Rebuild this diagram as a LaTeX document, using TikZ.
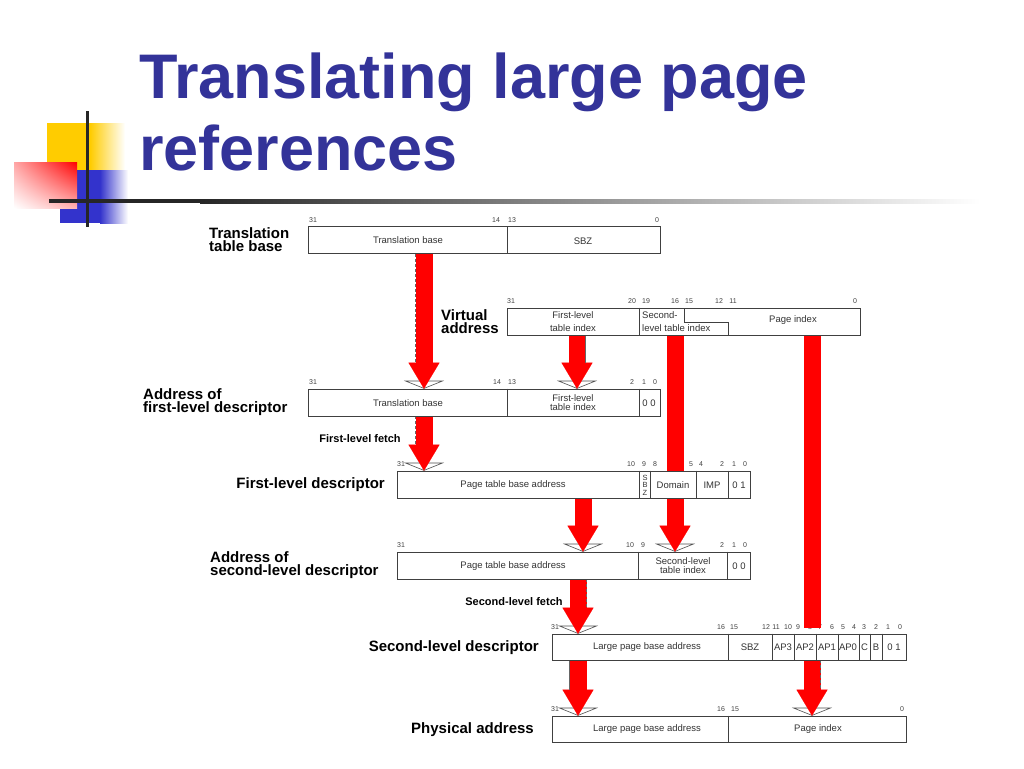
\documentclass[tikz,border=0pt]{standalone}
\usepackage{fontspec}
\setmainfont{Liberation Sans}
\usetikzlibrary{arrows.meta,shadings}
\definecolor{titleblue}{HTML}{333399}
\definecolor{logoyellow}{HTML}{FFCC00}
\definecolor{logoblue}{HTML}{3333CC}
\definecolor{arrowred}{HTML}{FF0000}
\pgfdeclarelayer{bits}
\pgfdeclarelayer{arrows}
\pgfsetlayers{bits,arrows,main}

\begin{document}
\begin{tikzpicture}[x=1pt,y=-1pt,
  row/.style={draw=black!75, fill=white, line width=0.6pt, minimum height=27pt, inner sep=0pt},
  div/.style={draw=black!75, line width=0.6pt},
  fld/.style={inner sep=0pt, align=center, text=black!80, font=\fontsize{9.5}{9}\selectfont},
  bit/.style={inner sep=0pt, text=black!75, font=\fontsize{7}{7}\selectfont},
  lbl/.style={inner sep=0pt, align=left, font=\bfseries\fontsize{15}{13}\selectfont},
  fetch/.style={inner sep=0pt, font=\bfseries\fontsize{11}{11}\selectfont},
  redarrow/.style={arrowred, line width=17pt, -{Triangle[width=31pt,length=26pt,line width=0.1pt]}},
  redbar/.style={arrowred, line width=17pt},
  oldhead/.style={black!70, line width=0.6pt, -{Triangle[width=40pt,length=8pt,fill=white]}},
  oldedge/.style={black!60, line width=0.5pt, densely dashed, shorten >=26pt}]

\useasboundingbox (0,0) rectangle (1024,768);

% logo and rule
\fill[logoyellow] (47,123) rectangle (90,170);
\shade[left color=logoyellow, right color=white] (90,123) rectangle (125,170);
\fill[logoblue] (60,170) rectangle (100,223);
\shade[left color=logoblue, right color=white] (100,170) rectangle (128,223);
\shade[upper right=red, upper left=red!35!white, lower left=white, lower right=red!30!white] (14,162) rectangle (77,208);
\draw[line width=3pt, black!85] (87,111) -- (87,227);
\fill[black!85] (49,199) rectangle (200,203);
\shade[left color=black!85, right color=white] (200,199) rectangle (980,203);

\node[anchor=north west, inner sep=0pt, align=left, text=titleblue,
  font=\bfseries\fontsize{63}{72}\selectfont] (title) at (139,53) {Translating large page\\references};

% rows
\node[row, minimum width=352pt] (ttb) at (484,240) {};
\node[row, minimum width=353pt] (va) at (683.5,321.5) {};
\node[row, minimum width=352pt] (afl) at (484,402.5) {};
\node[row, minimum width=353pt] (fld) at (573.5,484.5) {};
\node[row, minimum width=353pt] (asl) at (573.5,565.5) {};
\node[row, minimum width=354pt, minimum height=26pt] (sld) at (729,647) {};
\node[row, minimum width=354pt, minimum height=26pt] (pa) at (729,729) {};

\draw[div] (507,0 |- ttb.north) -- (507,0 |- ttb.south);
\draw[div] (639,0 |- va.north) -- (639,0 |- va.south);
\draw[div] (684,308) -- (684,322) -- (728,322) -- (728,335);
\foreach \x in {507,639} \draw[div] (\x,0 |- afl.north) -- (\x,0 |- afl.south);
\foreach \x in {639,650,696,728} \draw[div] (\x,0 |- fld.north) -- (\x,0 |- fld.south);
\foreach \x in {638,727} \draw[div] (\x,0 |- asl.north) -- (\x,0 |- asl.south);
\foreach \x in {728,772,794,816,838,859,870,882} \draw[div] (\x,0 |- sld.north) -- (\x,0 |- sld.south);
\draw[div] (728,0 |- pa.north) -- (728,0 |- pa.south);

% field texts
\node[fld] (ttb1) at (408,240) {Translation base};
\node[fld] (ttb2) at (583,241) {SBZ};
\node[fld, font=\fontsize{9.5}{12.5}\selectfont] (va1) at (573,321.5) {First-level\\table index};
\node[fld, anchor=west, align=left, font=\fontsize{9.5}{13}\selectfont] (va2) at (642,322) {Second-\\level table index};
\node[fld] (va3) at (793,320) {Page index};
\node[fld] (afl1) at (408,403) {Translation base};
\node[fld] (afl2) at (573,403) {First-level\\table index};
\node[fld] (afl3) at (649,403) {0 0};
\node[fld] (fld1) at (513,485) {Page table base address};
\node[fld, font=\fontsize{7.5}{7.5}\selectfont] (fld2) at (645,485) {S\\B\\Z};
\node[fld] (fld3) at (673,485) {Domain};
\node[fld] (fld4) at (712,485) {IMP};
\node[fld] (fld5) at (739,485) {0 1};
\node[fld] (asl1) at (513,566) {Page table base address};
\node[fld] (asl2) at (683,566) {Second-level\\table index};
\node[fld] (asl3) at (739,566) {0 0};
\node[fld] (sld1) at (647,647) {Large page base address};
\foreach \x/\t [count=\i] in {750/SBZ,783/AP3,805/AP2,827/AP1,848/AP0,864.5/C,876/B,894/0 1}
  \node[fld] (sldf\i) at (\x,647) {\t};
\node[fld] (pa1) at (647,729) {Large page base address};
\node[fld] (pa2) at (818,729) {Page index};

% bit numbers
\begin{pgfonlayer}{bits}
\foreach \x/\t [count=\i] in {313/31,496/14,512/13,657/0}
  \node[bit] (ttbb\i) at (\x,220) {\t};
\foreach \x/\t [count=\i] in {511/31,632/20,646/19,675/16,689/15,719/12,733/11,855/0}
  \node[bit] (vab\i) at (\x,301) {\t};
\foreach \x/\t [count=\i] in {313/31,497/14,512/13,632/2,644/1,655/0}
  \node[bit] (aflb\i) at (\x,382) {\t};
\foreach \x/\t [count=\i] in {401/31,631/10,644/9,655/8,691/5,701/4,722/2,734/1,745/0}
  \node[bit] (fldb\i) at (\x,464) {\t};
\foreach \x/\t [count=\i] in {401/31,630/10,643/9,722/2,734/1,745/0}
  \node[bit] (aslb\i) at (\x,545) {\t};
\foreach \x/\t [count=\i] in {555/31,721/16,734/15,766/12,776/11,788/10,798/9,810/8,820/7,832/6,843/5,854/4,864/3,876/2,888/1,900/0}
  \node[bit] (sldb\i) at (\x,627) {\t};
\foreach \x/\t [count=\i] in {555/31,721/16,735/15,902/0}
  \node[bit] (pab\i) at (\x,709) {\t};
\end{pgfonlayer}

% row labels
\node[lbl, anchor=west] (lttb) at (209,239.5) {Translation\\table base};
\node[lbl, anchor=west] (lva) at (441,321.5) {Virtual\\address};
\node[lbl, anchor=west] (lafl) at (143,402) {Address of\\first-level descriptor};
\node[lbl, anchor=east] (lfld) at (385,485) {First-level descriptor};
\node[lbl, anchor=west] (lasl) at (210,565) {Address of\\second-level descriptor};
\node[lbl, anchor=east] (lsld) at (539,648) {Second-level descriptor};
\node[lbl, anchor=east] (lpa) at (534,730) {Physical address};
\node[fetch] (fetch1) at (360,439) {First-level fetch};
\node[fetch] (fetch2) at (514,602) {Second-level fetch};

% red arrows
\coordinate (c1) at (424,0);
\coordinate (c2) at (577,0);
\coordinate (c3) at (583,0);
\coordinate (c4) at (675,0);
\coordinate (c5) at (812,0);
\coordinate (c6) at (578,0);
\coordinate (e1) at (415.5,0);
\coordinate (e2) at (585.5,0);
\coordinate (e5) at (820.5,0);
\coordinate (e6) at (586.5,0);
\coordinate (e7) at (569.5,0);
\coordinate (pgend) at (812,628);
\begin{pgfonlayer}{arrows}
\draw[oldhead] (ttb.south -| c1) -- (afl.north -| c1);
\draw[redarrow] (ttb.south -| c1) -- (afl.north -| c1);
\draw[oldhead] (va.south -| c2) -- (afl.north -| c2);
\draw[redarrow] (va.south -| c2) -- (afl.north -| c2);
\draw[oldhead] (afl.south -| c1) -- (fld.north -| c1);
\draw[redarrow] (afl.south -| c1) -- (fld.north -| c1);
\draw[oldhead] (fld.south -| c3) -- (asl.north -| c3);
\draw[redarrow] (fld.south -| c3) -- (asl.north -| c3);
\draw[oldhead] (va.south -| c4) -- (asl.north -| c4);
\draw[redarrow] (va.south -| c4) -- (asl.north -| c4);
\draw[redbar] (va.south -| c5) -- (pgend);
\draw[oldhead] (asl.south -| c6) -- (sld.north -| c6);
\draw[redarrow] (asl.south -| c6) -- (sld.north -| c6);
\draw[oldhead] (sld.south -| c6) -- (pa.north -| c6);
\draw[redarrow] (sld.south -| c6) -- (pa.north -| c6);
\draw[oldhead] (sld.south -| c5) -- (pa.north -| c5);
\draw[redarrow] (sld.south -| c5) -- (pa.north -| c5);
% outlines of the old arrows
\draw[oldedge] (ttb.south -| e1) -- (afl.north -| e1);
\draw[oldedge, solid] (va.south -| e2) -- (afl.north -| e2);
\draw[oldedge] (afl.south -| e1) -- (fld.north -| e1);
\draw[oldedge] (asl.south -| e6) -- (sld.north -| e6);
\draw[oldedge, solid] (sld.south -| e7) -- (pa.north -| e7);
\draw[oldedge] (sld.south -| e5) -- (pa.north -| e5);
\end{pgfonlayer}
\end{tikzpicture}
\end{document}
